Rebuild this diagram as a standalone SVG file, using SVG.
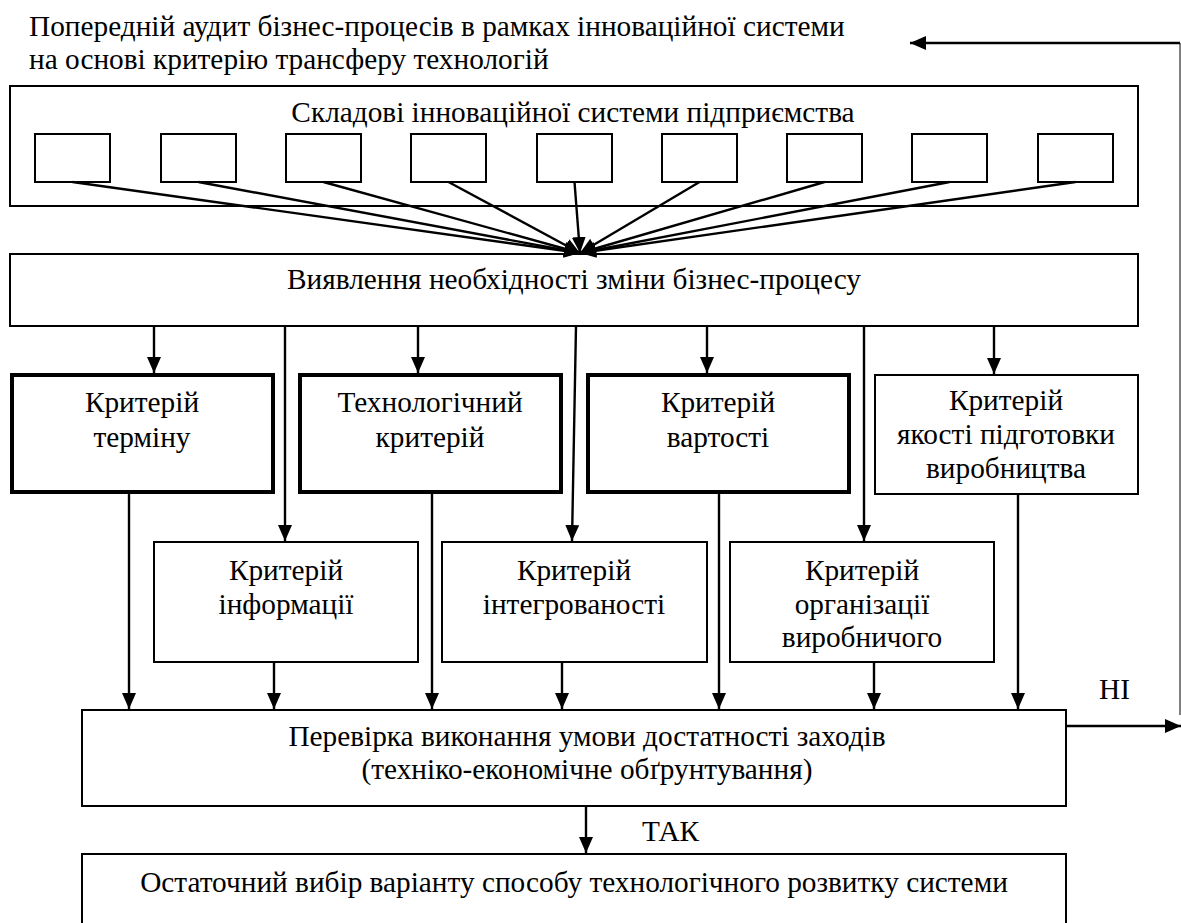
<svg xmlns="http://www.w3.org/2000/svg" width="1181" height="923" viewBox="0 0 1181 923" font-family="'Liberation Serif', 'Times New Roman', serif">
<style>
text{font-family:"Liberation Serif","Times New Roman","DejaVu Serif",serif;font-size:29.3px;fill:#000}
.c{text-anchor:middle}
.box{fill:#fff;stroke:#000;stroke-width:2}
.thick{fill:#fff;stroke:#000;stroke-width:4}
.arr{fill:none;stroke:#000;stroke-width:2.4;marker-end:url(#ah)}
</style>
<defs>
<marker id="ah" markerUnits="userSpaceOnUse" markerWidth="16" markerHeight="14" refX="16" refY="7" orient="auto">
<path d="M0,0 L16,7 L0,14 z" fill="#000"/>
</marker>
</defs>
<rect width="1181" height="923" fill="#fff"/>

<g id="title">
<text x="29" y="36">Попередній аудит бізнес-процесів в рамках інноваційної системи</text>
<text x="29" y="69">на основі критерію трансферу технологій</text>
</g>

<g id="components">
<rect class="box" x="10" y="86" width="1128" height="120"/>
<text class="c" x="573" y="122">Складові інноваційної системи підприємства</text>
<rect class="box" x="35" y="134" width="75" height="48"/>
<rect class="box" x="161" y="134" width="75" height="48"/>
<rect class="box" x="286" y="134" width="75" height="48"/>
<rect class="box" x="411" y="134" width="75" height="48"/>
<rect class="box" x="537" y="134" width="75" height="48"/>
<rect class="box" x="662" y="134" width="75" height="48"/>
<rect class="box" x="787" y="134" width="75" height="48"/>
<rect class="box" x="912" y="134" width="75" height="48"/>
<rect class="box" x="1038" y="134" width="75" height="48"/>
</g>

<g id="detect">
<rect class="box" x="10" y="254" width="1128" height="72"/>
<text class="c" x="574" y="289">Виявлення необхідності зміни бізнес-процесу</text>
</g>

<g id="crit-term">
<rect class="thick" x="12" y="375" width="261" height="117"/>
<text class="c" x="142" y="412">Критерій</text>
<text class="c" x="142" y="447">терміну</text>
</g>
<g id="crit-tech">
<rect class="thick" x="300" y="375" width="261" height="117"/>
<text class="c" x="430" y="412">Технологічний</text>
<text class="c" x="430" y="447">критерій</text>
</g>
<g id="crit-cost">
<rect class="thick" x="588" y="375" width="261" height="117"/>
<text class="c" x="718" y="412">Критерій</text>
<text class="c" x="718" y="447">вартості</text>
</g>
<g id="crit-quality">
<rect class="box" x="875" y="375" width="263" height="119"/>
<text class="c" x="1006" y="410">Критерій</text>
<text class="c" x="1006" y="444">якості підготовки</text>
<text class="c" x="1006" y="478">виробництва</text>
</g>

<g id="crit-info">
<rect class="box" x="154" y="542" width="264" height="120"/>
<text class="c" x="286" y="580">Критерій</text>
<text class="c" x="286" y="614">інформації</text>
</g>
<g id="crit-integr">
<rect class="box" x="442" y="542" width="265" height="120"/>
<text class="c" x="574" y="580">Критерій</text>
<text class="c" x="574" y="614">інтегрованості</text>
</g>
<g id="crit-org">
<rect class="box" x="730" y="542" width="264" height="120"/>
<text class="c" x="862" y="580">Критерій</text>
<text class="c" x="862" y="614">організації</text>
<text class="c" x="862" y="647">виробничого</text>
</g>

<g id="check">
<rect class="box" x="82" y="710" width="984" height="96"/>
<text class="c" x="587" y="746">Перевірка виконання умови достатності заходів</text>
<text class="c" x="587" y="779">(техніко-економічне обґрунтування)</text>
</g>

<g id="final">
<rect class="box" x="82" y="854" width="984" height="90"/>
<text class="c" x="574" y="892">Остаточний вибір варіанту способу технологічного розвитку системи</text>
</g>

<g id="labels">
<text x="1099" y="699">НІ</text>
<text x="642" y="841">ТАК</text>
</g>

<g id="connectors">
<line class="arr" x1="72.5" y1="182" x2="580" y2="253"/>
<line class="arr" x1="198.5" y1="182" x2="580" y2="253"/>
<line class="arr" x1="323.5" y1="182" x2="580" y2="253"/>
<line class="arr" x1="448.5" y1="182" x2="580" y2="253"/>
<line class="arr" x1="574.5" y1="182" x2="580" y2="253"/>
<line class="arr" x1="699.5" y1="182" x2="580" y2="253"/>
<line class="arr" x1="824.5" y1="182" x2="580" y2="253"/>
<line class="arr" x1="949.5" y1="182" x2="580" y2="253"/>
<line class="arr" x1="1075.5" y1="182" x2="580" y2="253"/>

<line class="arr" x1="154" y1="326" x2="154" y2="373"/>
<line class="arr" x1="418" y1="326" x2="418" y2="373"/>
<line class="arr" x1="707" y1="326" x2="707" y2="373"/>
<line class="arr" x1="994" y1="326" x2="994" y2="374"/>

<line class="arr" x1="285" y1="326" x2="285" y2="541"/>
<line class="arr" x1="576" y1="326" x2="572" y2="541"/>
<line class="arr" x1="864" y1="326" x2="864" y2="541"/>

<line class="arr" x1="129" y1="494" x2="129" y2="709"/>
<line class="arr" x1="432" y1="494" x2="432" y2="709"/>
<line class="arr" x1="719" y1="494" x2="719" y2="709"/>
<line class="arr" x1="1018" y1="495" x2="1018" y2="709"/>

<line class="arr" x1="274" y1="663" x2="274" y2="709"/>
<line class="arr" x1="562" y1="663" x2="562" y2="709"/>
<line class="arr" x1="874" y1="663" x2="874" y2="709"/>

<line class="arr" x1="586" y1="807" x2="586" y2="853"/>
<line class="arr" x1="1067" y1="726" x2="1181" y2="726"/>

<line x1="1180" y1="715" x2="1180" y2="43" stroke="#555" stroke-width="1.5"/>
<line class="arr" x1="1180" y1="43" x2="910" y2="43"/>
</g>
</svg>
